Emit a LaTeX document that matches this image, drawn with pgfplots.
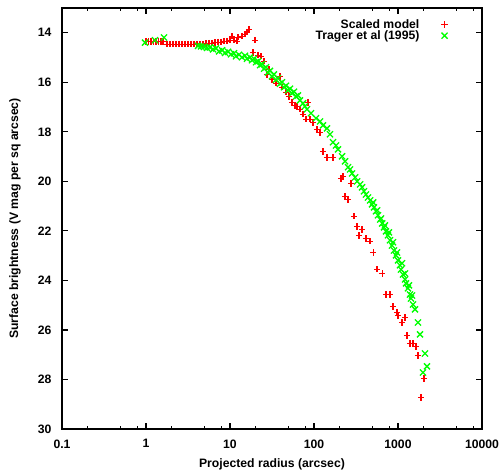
\documentclass[border=0pt]{standalone}
\usepackage{pgfplots}
\pgfplotsset{compat=1.18}
\usepackage{fontspec}
\setmainfont{Liberation Sans}
\definecolor{gpred}{RGB}{255,0,0}
\definecolor{gpgreen}{RGB}{0,255,0}
\newcommand{\gpfont}{\fontsize{12.2}{14}\selectfont\bfseries}
\begin{document}
\begin{tikzpicture}
\path[use as bounding box] (-62pt,-41pt) rectangle (442pt,429pt);
\begin{axis}[
  at={(0pt,0pt)}, anchor=south west,
  width=420pt, height=421pt, scale only axis,
  xmode=log, xmin=0.1, xmax=10000,
  ymin=13, ymax=30, y dir=reverse,
  xtick={0.1,1,10,100,1000,10000},
  xticklabels={0.1,1,10,100,1000,10000},
  minor xtick={0.2,0.5,0.8,2,5,8,20,50,80,200,500,800,2000,5000,8000},
  ytick={14,16,18,20,22,24,26,28,30},
  minor ytick={},
  tick align=inside,
  major tick length=6pt, minor tick length=3pt,
  every tick/.style={black, line width=1.2pt},
  axis line style={line width=1.4pt},
  /pgf/number format/assume math mode=true,
  tick label style={font=\gpfont},
  xticklabel style={yshift=-7pt},
  yticklabel style={xshift=-7pt},
  label style={font=\gpfont},
  xlabel={Projected radius (arcsec)},
  ylabel={Surface brightness (V mag per sq arcsec)},
  xlabel style={at={(axis description cs:0.5,-0.0903)}, anchor=base},
  ylabel style={at={(axis description cs:-0.112,0.5)}, anchor=center, rotate=0},
  legend style={at={(1,1)}, anchor=north east, xshift=-31pt, yshift=-7pt,
    draw=none, fill=none, font=\gpfont, row sep=-3pt,
    /tikz/every odd column/.append style={column sep=20pt}},
  legend plot pos=right,
  legend cell align=right,
]
\addplot[only marks, mark=+, mark size=3.2pt, color=gpred, mark options={draw=gpred, line width=1.3pt}] coordinates {
(1.0,14.36) (1.071,14.36) (1.147,14.36) (1.228,14.36) (1.315,14.36) (1.409,14.36) (1.509,14.36) (1.594,14.36)
(1.778,14.46) (1.93,14.46) (2.096,14.46) (2.277,14.46) (2.47,14.46) (2.68,14.46) (2.91,14.46) (3.16,14.46) (3.43,14.46) (3.72,14.46) (4.05,14.46)
(4.40,14.46) (4.77,14.46) (5.18,14.44) (5.62,14.42) (6.11,14.42) (6.63,14.40) (7.20,14.38) (7.82,14.38) (8.49,14.34) (9.22,14.34)
(10.0,14.30) (10.57,14.14) (11.16,14.30) (12.13,14.34) (12.47,14.18) (13.9,14.14) (15.1,14.06) (15.95,13.98) (16.85,13.86) (19.9,14.30)
(18.8,14.79) (21.6,14.91) (23.4,14.95) (25.4,15.15) (27.6,15.68) (29.1,15.47) (31.6,15.88) (35.3,16.04) (39.4,15.76) (41.6,16.20)
(46.4,16.40) (50.4,16.57) (54.7,16.81) (59.4,16.93) (62.7,16.97) (68.1,17.09) (74.0,17.29) (84.8,16.81) (80.3,17.49) (89.5,17.49)
(97.3,17.62) (108.5,17.90) (117.9,18.02) (128.1,18.79) (142.9,19.03) (168.4,19.03) (209.6,19.88) (221.4,19.80) (234.2,20.61) (254.5,20.73)
(275.8,20.08) (299.6,21.41) (325.7,21.82) (343.4,22.18) (373.8,21.94) (416,22.30) (466,22.42) (506.6,22.87) (562,23.55) (648,23.72)
(720,24.57) (803,24.57) (872,25.05) (973,25.29) (1000,25.41) (1116,25.70) (1212,25.49) (1280,26.22) (1389,26.55) (1509,26.55)
(1638,26.67) (1730,27.03) (2040,27.96) (1879,28.73)
};
\addlegendentry{Scaled model}
\addplot[only marks, mark=x, mark size=4.3pt, color=gpgreen, mark options={draw=gpgreen, line width=1.3pt}] coordinates {
(0.973,14.40) (1.28,14.30) (1.64,14.19)
(4.16,14.53) (4.52,14.55) (4.90,14.57) (5.32,14.61) (5.78,14.59) (6.28,14.67) (6.81,14.63) (7.40,14.75) (8.04,14.71) (8.73,14.81)
(9.47,14.77) (10.28,14.87) (11.16,14.83) (11.79,14.95) (12.80,14.89) (13.9,14.99) (15.1,14.93) (15.95,15.05) (17.3,14.99) (18.3,15.11)
(19.31,15.05) (20.40,15.19) (21.6,15.15) (22.8,15.31) (24.0,15.27) (25.40,15.45) (26.83,15.39) (28.3,15.60) (29.9,15.54) (31.6,15.76)
(33.40,15.68) (35.28,15.90) (37.2,15.84) (39.4,16.06) (41.59,16.00) (43.94,16.20) (46.42,16.14) (49.03,16.32) (51.8,16.26) (54.7,16.44)
(57.8,16.38) (61.1,16.57) (64.5,16.53) (68.1,16.73) (74.0,16.85) (78.1,16.97) (82.5,17.09) (92.1,17.25) (105.6,17.45) (117.9,17.58)
(128.1,17.74) (142.9,17.86) (155.0,18.10) (168.4,18.42) (182.8,18.55) (193.1,18.71) (215.5,18.99) (234.2,19.19) (254.5,19.43) (268.8,19.52)
(283.5,19.68) (308.4,19.84) (325.7,20.00) (354,20.12) (373.8,20.24) (393.8,20.40) (415.9,20.53) (439.4,20.65) (466.2,20.77) (490.3,20.93)
(517.9,21.05) (547.0,21.21) (577.8,21.37) (614,21.54) (648,21.70) (681.3,21.86) (719.7,22.02) (760.2,22.18) (803,22.38) (848.3,22.59)
(896.0,22.79) (946.4,22.99) (1000,23.19) (1056,23.39) (1085,23.56) (1147,23.76) (1212,23.96) (1246,24.12) (1315,24.32) (1389,24.57)
(1428,24.73) (1509,24.97) (1594,25.17) (1730,25.70) (1828,26.18) (2096,26.95) (2214,27.47) (1985,27.72)
(506.6,20.85) (565,21.17) (627.7,21.50) (700,21.78) (781,22.06) (872,22.46) (973,22.87) (1116,23.31) (1212,23.72) (1352,24.20) (1468,24.61)
};
\addlegendentry{Trager et al (1995)}
\end{axis}
\end{tikzpicture}
\end{document}
